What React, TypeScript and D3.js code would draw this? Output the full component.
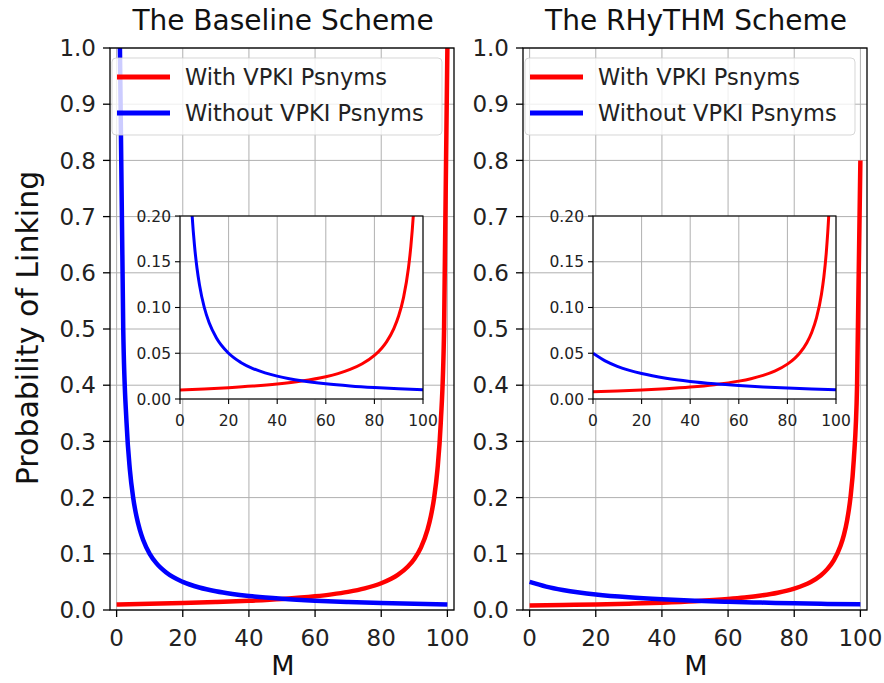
import React, { useEffect, useRef } from 'react'
import * as d3 from 'd3'

// values
const mWith = [0, 10, 20, 30, 40, 50, 60, 65, 70, 75, 80, 83, 85, 88, 90, 92, 94, 95, 96, 97, 98, 99, 100]
const baselineWith = [0.0099, 0.01099, 0.01235, 0.01408, 0.01639, 0.01961, 0.02439, 0.02778, 0.03226, 0.03846, 0.04762, 0.05556, 0.0625, 0.07692, 0.09091, 0.1111, 0.1429, 0.1667, 0.2, 0.25, 0.3333, 0.5, 1.0]
const mBaselineWithout = [1, 2, 3, 4, 5, 6, 7, 8, 10, 12, 15, 20, 25, 30, 35, 40, 45, 50, 60, 70, 80, 90, 100]
const baselineWithout = [1.0, 0.5, 0.3333, 0.25, 0.2, 0.1667, 0.1429, 0.125, 0.1, 0.08333, 0.06667, 0.05, 0.04, 0.03333, 0.02857, 0.025, 0.02222, 0.02, 0.01667, 0.01429, 0.0125, 0.01111, 0.01]
const rhythmWith = [0.00792, 0.00879, 0.00988, 0.01127, 0.01311, 0.01569, 0.01951, 0.02222, 0.02581, 0.03077, 0.0381, 0.04444, 0.05, 0.06154, 0.07273, 0.08889, 0.1143, 0.1333, 0.16, 0.2, 0.2667, 0.4, 0.8]
const mRhythmWithout = [0, 5, 10, 15, 20, 30, 40, 50, 60, 70, 80, 90, 100]
const rhythmWithout = [0.05, 0.04167, 0.03571, 0.03125, 0.02778, 0.02273, 0.01923, 0.01667, 0.01471, 0.01316, 0.0119, 0.01087, 0.01]

const xTicks = [0, 20, 40, 60, 80, 100]
const yTicks = [0, 0.1, 0.2, 0.3, 0.4, 0.5, 0.6, 0.7, 0.8, 0.9, 1.0]
const insetYTicks = [0, 0.05, 0.1, 0.15, 0.2]
const seriesNames = ['With VPKI Psnyms', 'Without VPKI Psnyms']
const colors = ['#ff0000', '#0000ff']
const titles = ['The Baseline Scheme', 'The RHyTHM Scheme']

const FONT = 'DejaVu Sans, sans-serif'
const GRID = '#b0b0b0'

type Series = { m: number[]; v: number[]; color: string }

function drawAxes(g, id, box, xDomain, yDomain, yTickVals, yFmt, opts) {
	const { left, top, width, height } = box
	const x = d3.scaleLinear().domain(xDomain).range([left, left + width])
	const y = d3.scaleLinear().domain(yDomain).range([top + height, top])

	g.append('rect')
		.attr('x', left).attr('y', top).attr('width', width).attr('height', height)
		.attr('fill', 'white')

	g.append('clipPath').attr('id', id)
		.append('rect')
		.attr('x', left).attr('y', top).attr('width', width).attr('height', height)

	// grid
	g.selectAll(null).data(xTicks).enter().append('line')
		.attr('x1', (d) => x(d)).attr('x2', (d) => x(d))
		.attr('y1', top).attr('y2', top + height)
		.attr('stroke', GRID).attr('stroke-width', opts.gridW)
	g.selectAll(null).data(yTickVals).enter().append('line')
		.attr('x1', left).attr('x2', left + width)
		.attr('y1', (d) => y(d)).attr('y2', (d) => y(d))
		.attr('stroke', GRID).attr('stroke-width', opts.gridW)

	// curves
	const line = d3.line<[number, number]>()
		.x((d) => x(d[0])).y((d) => y(d[1]))
		.curve(d3.curveMonotoneX)
	opts.series.forEach((s: Series) => {
		g.append('path')
			.attr('d', line(s.m.map((m, i) => [m, s.v[i]])))
			.attr('fill', 'none').attr('stroke', s.color)
			.attr('stroke-width', opts.lineW)
			.attr('clip-path', `url(#${id})`)
	})

	// frame
	g.append('rect')
		.attr('x', left).attr('y', top).attr('width', width).attr('height', height)
		.attr('fill', 'none').attr('stroke', '#000').attr('stroke-width', opts.spineW)

	// ticks
	g.selectAll(null).data(xTicks).enter().append('line')
		.attr('x1', (d) => x(d)).attr('x2', (d) => x(d))
		.attr('y1', top + height).attr('y2', top + height + opts.tickLen)
		.attr('stroke', '#000').attr('stroke-width', opts.spineW)
	g.selectAll(null).data(xTicks).enter().append('text')
		.attr('x', (d) => x(d)).attr('y', top + height + opts.xLabelDy)
		.attr('text-anchor', 'middle')
		.attr('font-family', FONT).attr('font-size', opts.tickFont).attr('fill', '#222')
		.text((d) => d)
	g.selectAll(null).data(yTickVals).enter().append('line')
		.attr('x1', left - opts.tickLen).attr('x2', left)
		.attr('y1', (d) => y(d)).attr('y2', (d) => y(d))
		.attr('stroke', '#000').attr('stroke-width', opts.spineW)
	g.selectAll(null).data(yTickVals).enter().append('text')
		.attr('x', left - opts.yLabelGap).attr('y', (d) => y(d))
		.attr('dy', '0.36em')
		.attr('text-anchor', 'end')
		.attr('font-family', FONT).attr('font-size', opts.tickFont).attr('fill', '#222')
		.text((d) => yFmt(d))
}

function drawPanel(svg, idx, left, insetLeft, series: Series[]) {
	const g = svg.append('g')
	const box = { left, top: 48, width: 344, height: 562 }
	drawAxes(g, `main${idx}`, box, [-2, 102], [0, 1], yTicks, d3.format('.1f'), {
		series, lineW: 4.5, gridW: 1, spineW: 1.3, tickLen: 7, tickFont: 23,
		xLabelDy: 36, yLabelGap: 14,
	})

	// inset
	const inset = { left: insetLeft, top: 216, width: 243, height: 183 }
	drawAxes(g, `inset${idx}`, inset, [0, 100], [0, 0.2], insetYTicks, d3.format('.2f'), {
		series, lineW: 3, gridW: 1, spineW: 1.1, tickLen: 5, tickFont: 15.5,
		xLabelDy: 27, yLabelGap: 9,
	})

	// title
	g.append('text')
		.attr('x', box.left + box.width / 2 + 1).attr('y', 30)
		.attr('text-anchor', 'middle')
		.attr('font-family', FONT).attr('font-size', 28).attr('fill', '#111')
		.text(titles[idx])

	// x label
	g.append('text')
		.attr('x', box.left + box.width / 2 + 1).attr('y', 675)
		.attr('text-anchor', 'middle')
		.attr('font-family', FONT).attr('font-size', 27).attr('fill', '#111')
		.text('M')

	// legend
	const lg = g.append('g').attr('transform', `translate(${left + 2}, 58)`)
	lg.append('rect')
		.attr('width', 330).attr('height', 77).attr('rx', 4)
		.attr('fill', 'white').attr('fill-opacity', 0.8)
		.attr('stroke', '#cccccc').attr('stroke-opacity', 0.8).attr('stroke-width', 1)
	seriesNames.forEach((name, i) => {
		const ly = 19 + i * 36
		lg.append('line')
			.attr('x1', 5).attr('x2', 58).attr('y1', ly).attr('y2', ly)
			.attr('stroke', colors[i]).attr('stroke-width', 5)
		lg.append('text')
			.attr('x', 73).attr('y', ly).attr('dy', '0.36em')
			.attr('font-family', FONT).attr('font-size', 22.5).attr('fill', '#222')
			.text(name)
	})
}

const Chart = () => {
	const ref = useRef(null)

	useEffect(() => {
		if (!ref.current) return
		const svg = d3.select(ref.current)
		svg.selectAll('*').remove()

		drawPanel(svg, 0, 110, 180, [
			{ m: mWith, v: baselineWith, color: colors[0] },
			{ m: mBaselineWithout, v: baselineWithout, color: colors[1] },
		])
		drawPanel(svg, 1, 523, 593, [
			{ m: mWith, v: rhythmWith, color: colors[0] },
			{ m: mRhythmWithout, v: rhythmWithout, color: colors[1] },
		])

		// shared y label
		svg.append('text')
			.attr('transform', 'translate(38, 328) rotate(-90)')
			.attr('text-anchor', 'middle')
			.attr('font-family', FONT).attr('font-size', 30).attr('fill', '#111')
			.text('Probability of Linking')
	}, [])

	return (
		<svg
			ref={ref}
			width={884}
			height={683}
			style={{ position: 'absolute', left: 0, top: 0, background: 'white' }}
		/>
	)
}

export default function App() {
	return <Chart />
}
